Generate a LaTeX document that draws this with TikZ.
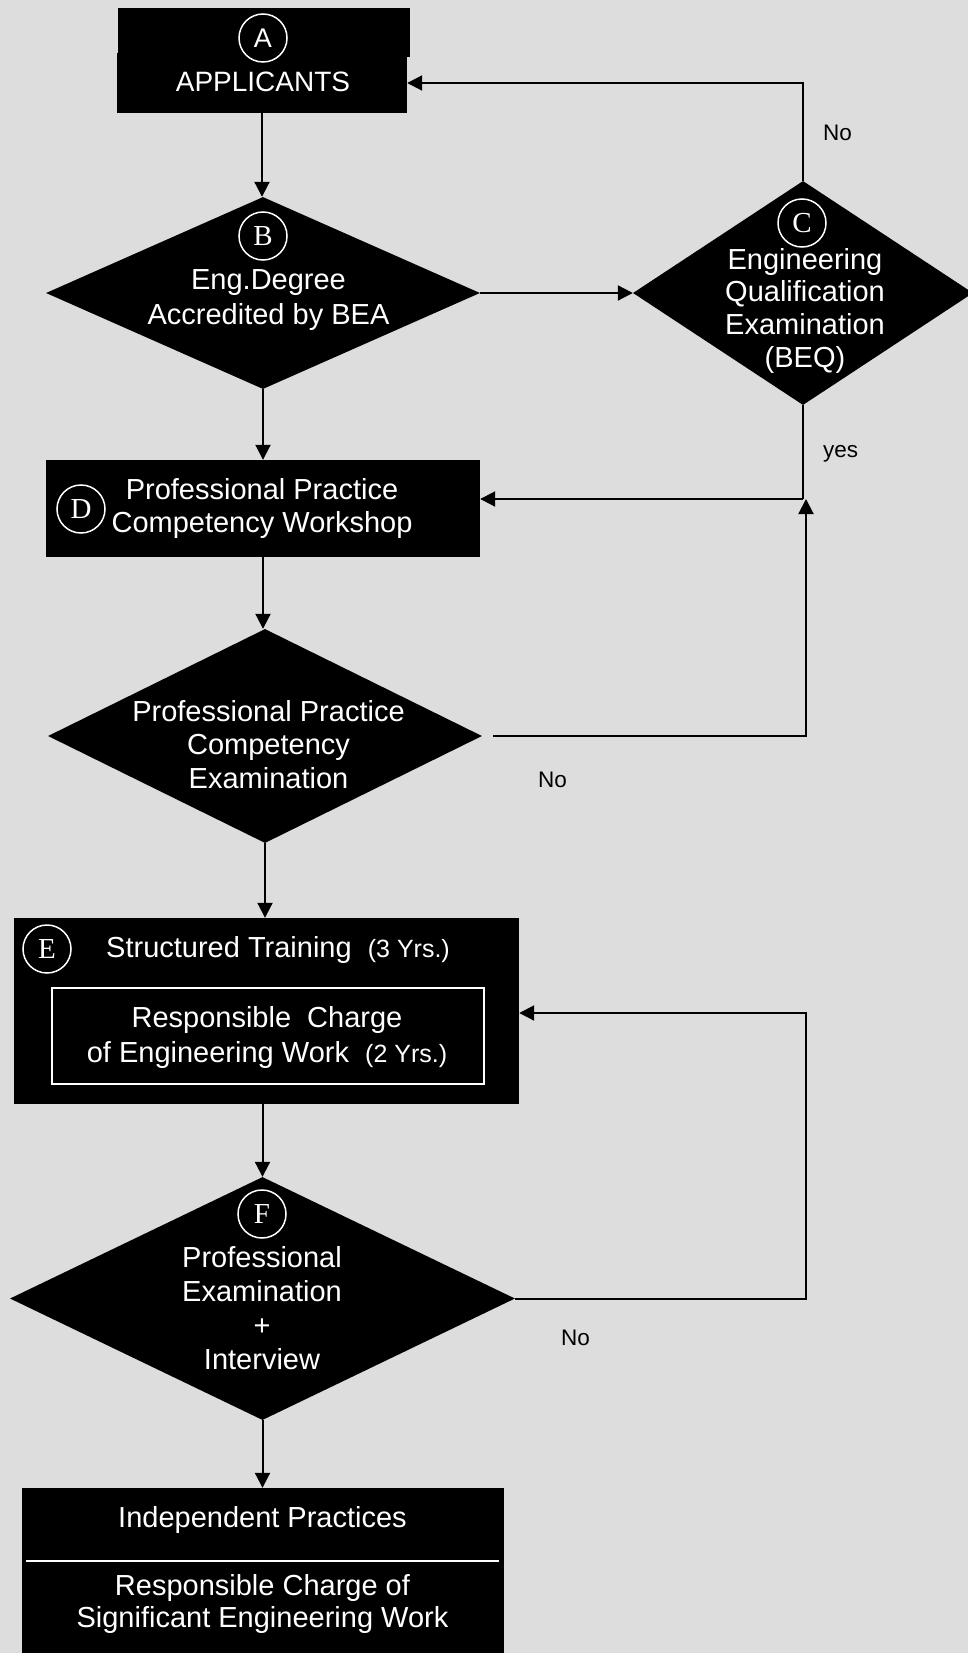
\documentclass[tikz,border=0pt]{standalone}
\usepackage{fontspec}
\setmainfont{Liberation Sans}
\newfontfamily\circfont{Liberation Serif}
\usetikzlibrary{shapes.geometric,arrows.meta}
\definecolor{bgc}{RGB}{221,221,221}
\begin{document}
\begin{tikzpicture}[x=1pt,y=-1pt,
  box/.style={fill=black, draw=none, inner sep=0, rectangle},
  dia/.style={diamond, fill=black, draw=none, inner sep=0},
  wtxt/.style={text=white, font=\fontsize{29}{33.5}\selectfont, align=center, anchor=base, inner sep=0},
  lbl/.style={text=black, font=\fontsize{22.5}{26}\selectfont, anchor=base west, inner sep=0},
  circ/.style={circle, draw=white, line width=1.5pt, minimum size=48pt, inner sep=0, text=white, font=\circfont\fontsize{29}{30}\selectfont},
  conn/.style={line width=2pt, draw=black},
  arr/.style={conn, -{Triangle[length=15pt,width=15pt]}}]
\fill[bgc] (0,0) rectangle (968,1653);
\useasboundingbox (0,0) rectangle (968,1653);
% A
\fill (118,8) rectangle (410,57);
\node[box, minimum width=290pt, minimum height=60pt] (A) at (262,83) {};
\node[circ, font=\fontsize{27}{28}\selectfont] (cA) at (263,38) {A};
\node[wtxt, font=\fontsize{28}{32}\selectfont] (tA) at (263,92) {APPLICANTS};
% B
\node[dia, minimum width=434pt, minimum height=192pt] (B) at (263,293) {};
\node[circ] (cB) at (263,236) {B};
\node[wtxt, font=\fontsize{29}{34.7}\selectfont] (tB) at (268.5,324) {Eng.Degree\\Accredited by BEA};
% C
\node[dia, minimum width=340pt, minimum height=224pt] (C) at (803,293) {};
\node[circ] (cC) at (802,223) {C};
\node[wtxt, font=\fontsize{29}{32.6}\selectfont] (tC) at (805,367) {Engineering\\Qualification\\Examination\\(BEQ)};
% D
\node[box, minimum width=434pt, minimum height=97pt] (D) at (263,508.5) {};
\node[circ] (cD) at (81,509) {D};
\node[wtxt, font=\fontsize{29}{33}\selectfont] (tD) at (262,532) {Professional Practice\\Competency Workshop};
% P
\node[dia, minimum width=434pt, minimum height=214pt] (P) at (265,736) {};
\node[wtxt] (tP) at (268.5,788) {Professional Practice\\Competency\\Examination};
% E
\node[box, minimum width=505pt, minimum height=186pt] (E) at (266.5,1011) {};
\node[circ] (cE) at (47,949) {E};
\node[wtxt, anchor=base west] (tE) at (106,957) {Structured Training\ \ {\fontsize{25}{30}\selectfont(3 Yrs.)}};
\node[draw=white, line width=1.5pt, minimum width=432pt, minimum height=96pt, inner sep=0] (Ein) at (268,1036) {};
\node[wtxt, font=\fontsize{29}{35}\selectfont] (tEin) at (267,1062) {Responsible\ \ Charge\\of Engineering Work\ \ {\fontsize{25}{35}\selectfont(2 Yrs.)}};
% F
\node[dia, minimum width=505pt, minimum height=243pt] (F) at (262.5,1298.5) {};
\node[circ] (cF) at (262,1214) {F};
\node[wtxt, font=\fontsize{29}{34}\selectfont] (tF) at (262,1369) {Professional\\Examination\\+\\Interview};
% IP
\node[box, minimum width=482pt, minimum height=177pt] (IP) at (263,1576.5) {};
\node[wtxt] (tIP1) at (262.5,1527) {Independent Practices};
\draw[white, line width=1.5pt] (26,1561) -- (499,1561);
\node[wtxt, font=\fontsize{29}{32}\selectfont] (tIP2) at (262.5,1627) {Responsible Charge of\\Significant Engineering Work};
% connectors
\draw[arr] (A.south) -- (A.south |- B.north);
\draw[arr] (B.east) -- (C.west);
\draw[arr] (C.north) |- (A.east);
\coordinate (J) at (803,499);
\coordinate (J2) at (806,499);
\draw[conn] (C.south) -- (J);
\draw[arr] (J) -- (J -| D.east);
\draw[arr] ([xshift=11pt]P.east) -| (J2);
\draw[arr] (B.south) -- (B.south |- D.north);
\draw[arr] (D.south) -- (D.south |- P.north);
\draw[arr] (P.south) -- (P.south |- E.north);
\draw[arr] (F.north |- E.south) -- (F.north);
\draw[arr] (F.south) -- (F.south |- IP.north);
\coordinate (K) at (806,1298.5);
\draw[arr] (F.east) -- (K) |- ([yshift=-2pt]E.east);
% labels
\node[lbl] (no1) at (823,141) {No};
\node[lbl] (yes) at (823,457) {yes};
\node[lbl] (no2) at (538,787) {No};
\node[lbl] (no3) at (561,1345) {No};
\end{tikzpicture}
\end{document}
